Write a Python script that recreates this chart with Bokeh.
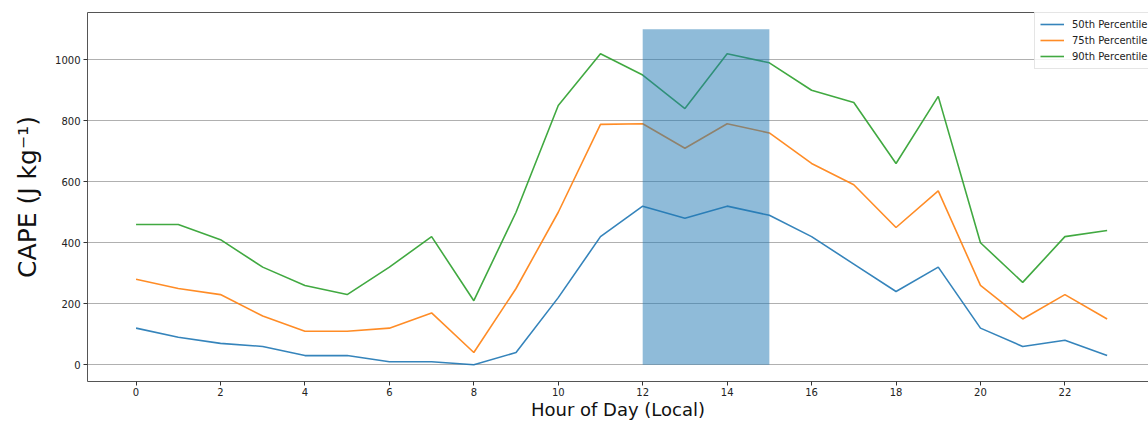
from bokeh.plotting import figure
from bokeh.models import ColumnDataSource, Range1d, LinearAxis, FixedTicker, Legend, LegendItem
from bokeh.embed import file_html
from bokeh.resources import INLINE

hours = list(range(24))
p50 = [120, 90, 70, 60, 30, 30, 10, 10, 0, 40, 220, 420, 520, 480, 520, 490, 420, 330, 240, 320, 120, 60, 80, 30]
p75 = [280, 250, 230, 160, 110, 110, 120, 170, 40, 250, 500, 788, 790, 710, 790, 760, 660, 590, 450, 570, 260, 150, 230, 150]
p90 = [460, 460, 410, 320, 260, 230, 320, 420, 210, 500, 850, 1020, 950, 840, 1020, 990, 900, 860, 660, 880, 400, 270, 420, 440]
series_names = ["50th Percentile", "75th Percentile", "90th Percentile"]
series_colors = ["#1f77b4", "#ff7f0e", "#2ca02c"]
span_left = [12]
span_right = [15]
span_bottom = [0]
span_top = [1100]
x_ticks = list(range(0, 24, 2))
y_ticks = [0, 200, 400, 600, 800, 1000]

FONT = "DejaVu Sans"

p = figure(width=1148, height=423, output_backend="svg", toolbar_location=None,
           x_range=Range1d(-1.15, 23.98), y_range=Range1d(-55, 1155),
           min_border_left=87, min_border_right=0, min_border_top=12, min_border_bottom=42)
p.outline_line_color = None
p.background_fill_color = "white"
p.border_fill_color = "white"

p.xgrid.visible = False
p.ygrid.ticker = FixedTicker(ticks=y_ticks)
p.ygrid.grid_line_color = "#b0b0b0"
p.ygrid.grid_line_width = 1

for ax, ticks in ((p.xaxis[0], x_ticks), (p.yaxis[0], y_ticks)):
    ax.ticker = FixedTicker(ticks=ticks)
    ax.minor_tick_line_color = None
    ax.major_tick_in = 0
    ax.major_tick_out = 4
    ax.major_tick_line_color = "#333333"
    ax.axis_line_color = "#555555"
    ax.major_label_text_font = FONT
    ax.major_label_text_font_size = "10px"
    ax.major_label_text_color = "#222222"
    ax.axis_label_text_font = FONT
    ax.axis_label_text_font_style = "normal"
    ax.axis_label_text_color = "#111111"

p.xaxis.axis_label = "Hour of Day (Local)"
p.xaxis.axis_label_text_font_size = "18px"
p.xaxis.major_label_standoff = 2
p.xaxis.axis_label_standoff = 0
p.yaxis.axis_label = "CAPE (J kg\u207b\u00b9)"
p.yaxis.axis_label_text_font_size = "25px"
p.yaxis.major_label_standoff = 3
p.yaxis.axis_label_standoff = 10

top_axis = LinearAxis(ticker=FixedTicker(ticks=[]), axis_line_color="#555555",
                      major_tick_line_color=None, minor_tick_line_color=None,
                      major_label_text_font_size="0px", major_label_standoff=0)
p.add_layout(top_axis, "above")

renderers = []
for vals, color in zip([p50, p75, p90], series_colors):
    src = ColumnDataSource(dict(x=hours, y=vals))
    r = p.line("x", "y", source=src, line_color=color, line_width=1.6, line_alpha=0.9)
    renderers.append(r)

span_src = ColumnDataSource(dict(left=span_left, right=span_right, bottom=span_bottom, top=span_top))
p.quad(left="left", right="right", bottom="bottom", top="top", source=span_src,
       fill_color="#1f77b4", fill_alpha=0.5, line_color=None)

legend = Legend(items=[LegendItem(label=n, renderers=[r]) for n, r in zip(series_names, renderers)],
                location=(947, 312))
legend.label_text_font = FONT
legend.label_text_font_size = "10px"
legend.label_text_color = "#222222"
legend.glyph_height = 14
legend.glyph_width = 24
legend.label_height = 14
legend.spacing = 2
legend.padding = 5
legend.margin = 0
legend.label_standoff = 8
legend.border_line_color = "#cccccc"
legend.background_fill_alpha = 0.85
p.add_layout(legend)

open("out.html", "w").write(file_html(p, INLINE))
